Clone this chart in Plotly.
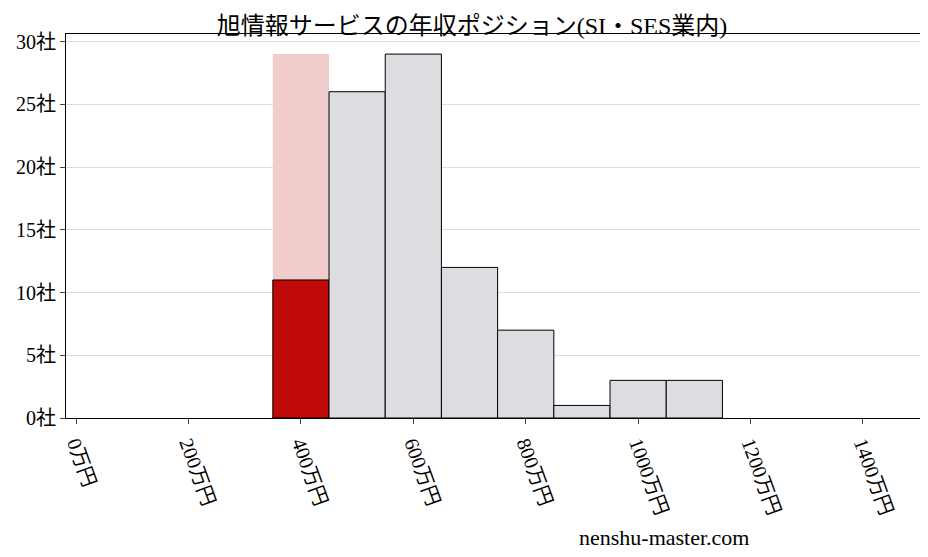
import plotly.graph_objects as go

bins = [500, 600, 700, 800, 900, 1000, 1100]
counts = [26, 29, 12, 7, 1, 3, 3]
hl_bin = [400]
hl_max = [29]
hl_val = [11]
xticks = [0, 200, 400, 600, 800, 1000, 1200, 1400]
xlabels = [f"{v}万円" for v in xticks]
yticks = [0, 5, 10, 15, 20, 25, 30]
ylabels = [f"{v}社" for v in yticks]

font = "Liberation Serif, Noto Sans CJK JP"
fig = go.Figure()
fig.add_bar(x=hl_bin, y=hl_max, width=100, marker=dict(color="#f0cccc", line=dict(width=0)))
fig.add_bar(x=hl_bin, y=hl_val, width=100, marker=dict(color="#c00a0a", line=dict(color="black", width=1)))
fig.add_bar(x=bins, y=counts, width=100, marker=dict(color="#dcdde0", line=dict(color="black", width=1)))
fig.update_layout(
    width=928, height=557, barmode="overlay", showlegend=False,
    plot_bgcolor="white", paper_bgcolor="white",
    margin=dict(l=55, r=8, t=26, b=147),
    title=dict(text="旭情報サービスの年収ポジション(SI・SES業内)", x=0.5, y=0.968, xanchor="center",
               yanchor="middle", font=dict(family=font, size=24, color="black")),
    font=dict(family=font, size=20, color="black"),
)
fig.update_xaxes(range=[-18, 1514], tickvals=xticks, ticktext=xlabels, tickangle=70,
                 showline=True, mirror=True, linecolor="black", showgrid=False, ticks="outside")
fig.update_yaxes(range=[0, 30.6], tickvals=yticks, ticktext=ylabels, showline=True, mirror=True,
                 linecolor="black", gridcolor="#dddddd", ticks="outside")
fig.add_annotation(text="nenshu-master.com", xref="paper", yref="paper", x=0.796, y=-0.31,
                   yanchor="middle", showarrow=False, font=dict(family=font, size=22, color="black"))
fig.write_html("out.html")
